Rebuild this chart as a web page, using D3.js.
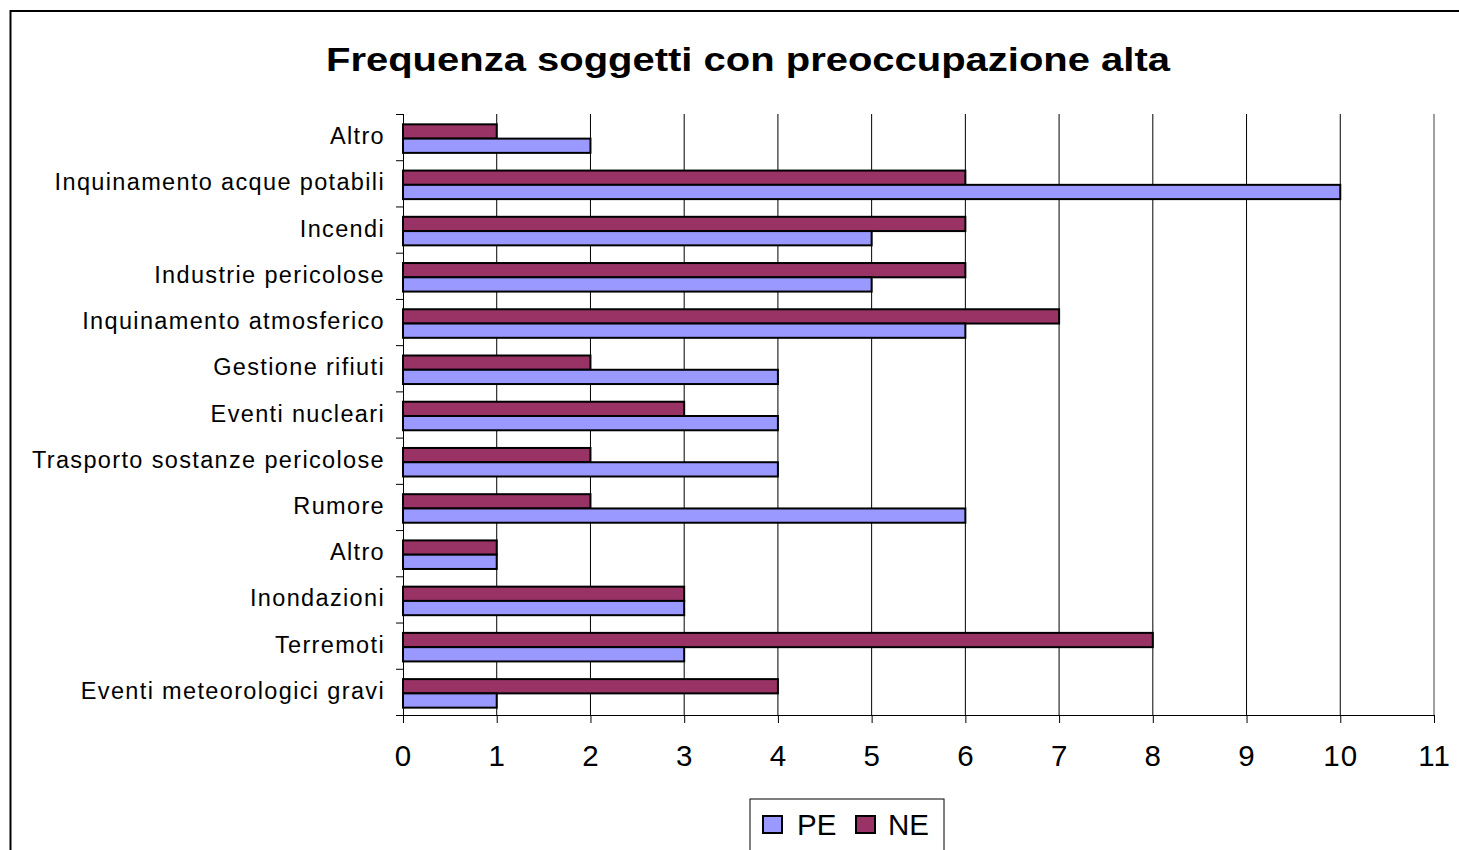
<!DOCTYPE html>
<html><head><meta charset="utf-8">
<script src="https://cdn.jsdelivr.net/npm/d3@7"></script>
<style>html,body{margin:0;padding:0;background:#fff;overflow:hidden}</style>
</head><body>
<svg id="c" width="1459" height="850"></svg>
<script>
// Categories listed top to bottom
const categories = ["Altro","Inquinamento acque potabili","Incendi","Industrie pericolose","Inquinamento atmosferico","Gestione rifiuti","Eventi nucleari","Trasporto sostanze pericolose","Rumore","Altro","Inondazioni","Terremoti","Eventi meteorologici gravi"];
const peValues = [2,10,5,5,6,4,4,4,6,1,3,3,1];
const neValues = [1,6,6,6,7,2,3,2,2,1,3,8,4];
const seriesNames = ["PE","NE"];
const xTicks = [0,1,2,3,4,5,6,7,8,9,10,11];
const title = "Frequenza soggetti con preoccupazione alta";

(function(){
const colors = {PE:"#9999FF", NE:"#993366"};
const svg = d3.select("#c");
const font = "'Liberation Sans', Arial, sans-serif";

// outer frame
svg.append("rect").attr("x",10.5).attr("y",11).attr("width",1470).attr("height",860)
  .attr("fill","none").attr("stroke","#000").attr("stroke-width",2);

svg.append("text").attr("x",326).attr("y",71)
  .attr("font-family",font).attr("font-weight","bold").attr("font-size",33)
  .attr("textLength",844).attr("lengthAdjust","spacingAndGlyphs")
  .text(title);

const pL=403, pR=1434, pT=114, pB=715;
const x = d3.scaleLinear().domain([0,11]).range([pL,pR]);
const y = d3.scaleBand().domain(categories.map((d,i)=>i)).range([pT,pB]);
const bw = y.bandwidth();
const inner = d3.scaleBand().domain(["NE","PE"]).range([1.5,bw+1.5]).paddingInner(0).paddingOuter(0.62);

// gridlines
svg.append("g").selectAll("line").data(xTicks.filter(d=>d>0)).join("line")
  .attr("x1",d=>x(d)).attr("x2",d=>x(d)).attr("y1",pT).attr("y2",pB)
  .attr("stroke",d=>d===11?"#808080":"#000").attr("stroke-width",d=>d===11?1.5:1);

// bars
const rows = categories.map((c,i)=>({i, PE:peValues[i], NE:neValues[i]}));
const g = svg.append("g");
["NE","PE"].forEach(s=>{
  g.selectAll("rect."+s).data(rows).join("rect").attr("class",s)
    .attr("x",x(0)).attr("y",d=>y(d.i)+inner(s))
    .attr("width",d=>x(d[s])-x(0)).attr("height",inner.bandwidth())
    .attr("fill",colors[s]).attr("stroke","#000").attr("stroke-width",2);
});

// axes
const xAxis = d3.axisBottom(x).tickValues(xTicks).tickSize(8).tickPadding(22).tickSizeOuter(0);
const ax = svg.append("g").attr("transform",`translate(0,${pB})`).call(xAxis);
ax.select(".domain").remove();
ax.selectAll(".tick line").attr("stroke","#000");
ax.selectAll("text").attr("font-family",font).attr("font-size",29.5).attr("letter-spacing","1px").attr("fill","#000");
svg.append("line").attr("x1",pL).attr("x2",pR).attr("y1",pB+0.5).attr("y2",pB+0.5).attr("stroke","#000");

svg.append("line").attr("x1",pL+0.5).attr("x2",pL+0.5).attr("y1",pT).attr("y2",pB+8).attr("stroke","#000");
// category boundary ticks
const bounds = d3.range(categories.length+1).map(k=>pT + k*y.step());
svg.append("g").selectAll("line").data(bounds).join("line")
  .attr("x1",pL-7).attr("x2",pL).attr("y1",d=>d+0.5).attr("y2",d=>d+0.5).attr("stroke","#000");
svg.append("g").selectAll("text").data(categories).join("text")
  .attr("x",385).attr("y",(d,i)=>y(i)+bw/2).attr("dy","0.3em")
  .attr("text-anchor","end").attr("font-family",font).attr("font-size",23.5)
  .attr("letter-spacing","1.35px").attr("fill","#000")
  .text(d=>d);

// legend
const lg = svg.append("g");
lg.append("rect").attr("x",750).attr("y",799).attr("width",194).attr("height",70)
  .attr("fill","#fff").attr("stroke","#000").attr("stroke-width",1);
const legX = {PE:[763,797], NE:[856,888]};
seriesNames.forEach(s=>{
  lg.append("rect").attr("x",legX[s][0]).attr("y",816).attr("width",19).attr("height",17)
    .attr("fill",colors[s]).attr("stroke","#000").attr("stroke-width",2);
  lg.append("text").attr("x",legX[s][1]).attr("y",835).attr("font-family",font).attr("font-size",29.5)
    .attr("fill","#000").text(s);
});
})();
</script>
</body></html>
